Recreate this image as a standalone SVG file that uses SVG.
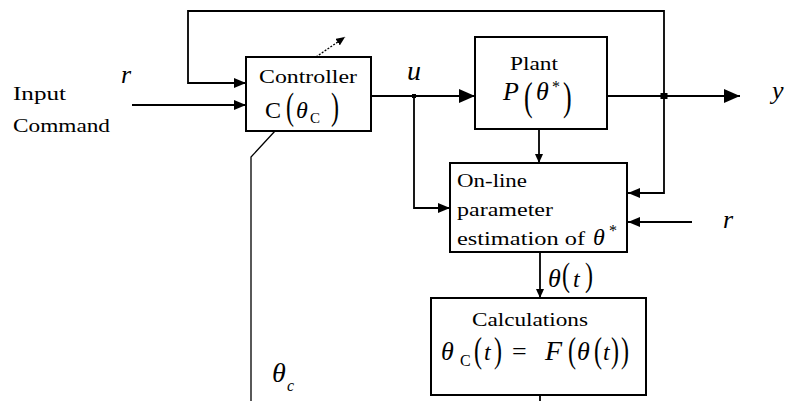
<svg xmlns="http://www.w3.org/2000/svg" width="787" height="401" viewBox="0 0 787 401">
<style>
.box{fill:#fff;stroke:#000;stroke-width:2}
.ln{fill:none;stroke:#000;stroke-width:1.8}
.thin{fill:none;stroke:#000;stroke-width:1.3}
.f{font-family:'Liberation Serif','DejaVu Serif',serif;fill:#000}
.t19{font-size:19px}
.i{font-style:italic}
</style>
<defs>
<marker id="aL" markerUnits="userSpaceOnUse" markerWidth="16" markerHeight="14" refX="16" refY="7" orient="auto"><path d="M0,0 L16,7 L0,14 z" fill="#000"/></marker>
<marker id="aM" markerUnits="userSpaceOnUse" markerWidth="12" markerHeight="10" refX="12" refY="5" orient="auto"><path d="M0,0 L12,5 L0,10 z" fill="#000"/></marker>
<marker id="aS" markerUnits="userSpaceOnUse" markerWidth="9" markerHeight="8" refX="9" refY="4" orient="auto"><path d="M0,0 L9,4 L0,8 z" fill="#000"/></marker>
</defs>
<rect width="787" height="401" fill="#fff"/>
<g id="connectors">
<path class="ln" d="M664,96 V11 H188 V83 H246" marker-end="url(#aM)"/>
<path class="ln" d="M132,105 H246" marker-end="url(#aM)"/>
<path class="ln" d="M371,96 H475" marker-end="url(#aL)"/>
<path class="ln" d="M607,96 H740" marker-end="url(#aL)"/>
<path class="ln" d="M664,96 V193 H628" marker-end="url(#aM)"/>
<path class="ln" d="M414,96 V208 H450" marker-end="url(#aM)"/>
<path class="ln" d="M692,222 H628" marker-end="url(#aM)"/>
<path class="ln" d="M539,129 V163" marker-end="url(#aS)"/>
<path class="ln" d="M540,252 V298" marker-end="url(#aS)"/>
<path class="ln" d="M540,395 V401"/>
<path class="thin" d="M275,131 L251,157 V401"/>
<path class="thin" d="M316,57 L345,37" stroke-dasharray="2,1.5" marker-end="url(#aS)"/>
<rect x="412" y="94" width="4" height="4" fill="#000"/>
<rect x="660.5" y="93" width="7" height="6" fill="#000"/>
</g>
<g id="input-label">
<text class="f t19" x="13" y="100" textLength="53" lengthAdjust="spacingAndGlyphs">Input</text>
<text class="f t19" x="13" y="132" textLength="97" lengthAdjust="spacingAndGlyphs">Command</text>
<text class="f i" x="121" y="83" font-size="26">r</text>
</g>
<g id="controller">
<rect class="box" x="246" y="57" width="125" height="74"/>
<text class="f t19" x="259" y="83" textLength="98" lengthAdjust="spacingAndGlyphs">Controller</text>
<text class="f" font-size="24"><tspan x="265" y="118">C</tspan><tspan x="296" y="118" class="i">θ</tspan><tspan x="310" y="123" font-size="15">C</tspan></text>
<text class="f" font-size="24" transform="translate(286,119) scale(1,1.6)">(</text>
<text class="f" font-size="24" transform="translate(331,119) scale(1,1.6)">)</text>
</g>
<g id="u-label"><text class="f i" x="407" y="80" font-size="28">u</text></g>
<g id="plant">
<rect class="box" x="475" y="37" width="132" height="92"/>
<text class="f t19" x="510" y="70" textLength="48" lengthAdjust="spacingAndGlyphs">Plant</text>
<text class="f" font-size="26"><tspan x="503" y="100" class="i">P</tspan><tspan x="536" y="100" class="i">θ</tspan><tspan x="552" y="92" font-size="16">*</tspan></text>
<text class="f" font-size="26" transform="translate(524,110) scale(1,1.55)">(</text>
<text class="f" font-size="26" transform="translate(563,110) scale(1,1.55)">)</text>
</g>
<g id="y-label"><text class="f i" x="772" y="99" font-size="26">y</text></g>
<g id="estimation">
<rect class="box" x="450" y="163" width="177" height="89"/>
<text class="f t19" x="457" y="187" textLength="70" lengthAdjust="spacingAndGlyphs">On-line</text>
<text class="f t19" x="457" y="216" textLength="96" lengthAdjust="spacingAndGlyphs">parameter</text>
<text class="f t19"><tspan x="457" y="245" textLength="128" lengthAdjust="spacingAndGlyphs">estimation of</tspan><tspan x="593" y="245" font-size="24" class="i">θ</tspan><tspan x="609" y="236" font-size="16">*</tspan></text>
</g>
<g id="r-label2"><text class="f i" x="723" y="228" font-size="26">r</text></g>
<g id="theta-t-label">
<text class="f i" font-size="26"><tspan x="548" y="287">θ</tspan><tspan x="573" y="287" font-size="24">t</tspan></text>
<text class="f" font-size="24" transform="translate(562,286) scale(1,1.4)">(</text>
<text class="f" font-size="24" transform="translate(585,286) scale(1,1.4)">)</text>
</g>
<g id="calculations">
<rect class="box" x="431" y="298" width="215" height="97"/>
<text class="f t19" x="472" y="326" textLength="116" lengthAdjust="spacingAndGlyphs">Calculations</text>
<text class="f" font-size="26"><tspan x="441" y="360" class="i">θ</tspan><tspan x="460" y="366" font-size="16">C</tspan><tspan x="484" y="360" font-size="24" class="i">t</tspan><tspan x="512" y="360">=</tspan><tspan x="545" y="360" font-size="28" class="i">F</tspan><tspan x="577" y="360" class="i">θ</tspan><tspan x="603" y="360" font-size="24" class="i">t</tspan></text>
<text class="f" font-size="24" transform="translate(474,362) scale(1,1.45)">(</text>
<text class="f" font-size="24" transform="translate(494,362) scale(1,1.45)">)</text>
<text class="f" font-size="24" transform="translate(568,362) scale(1,1.45)">(</text>
<text class="f" font-size="24" transform="translate(594,362) scale(1,1.45)">(</text>
<text class="f" font-size="24" transform="translate(611,362) scale(1,1.45)">)</text>
<text class="f" font-size="24" transform="translate(621,362) scale(1,1.45)">)</text>
</g>
<g id="theta-c-label">
<text class="f i" font-size="28"><tspan x="272" y="382">θ</tspan><tspan x="287" y="391" font-size="16">c</tspan></text>
</g>
</svg>
